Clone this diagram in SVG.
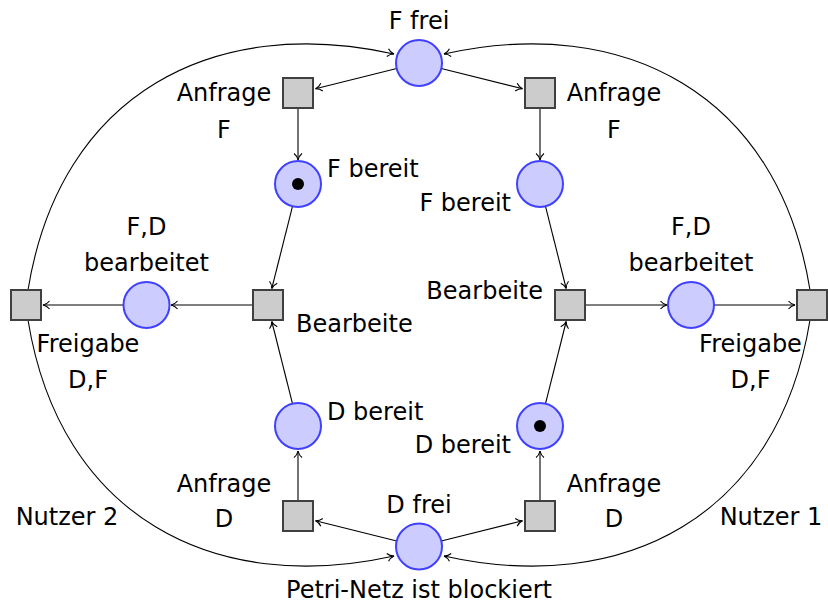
<svg xmlns="http://www.w3.org/2000/svg" width="828" height="604" viewBox="0 0 828 604">
<defs>
<style>
.pl{fill:#ccccff;stroke:#4040ff;stroke-width:2}
.tr{fill:#cccccc;stroke:#404040;stroke-width:2}
.tok{fill:#000}
.e{fill:none;stroke:#000;stroke-width:1.1;marker-end:url(#arr)}
text{font-family:"DejaVu Sans","Liberation Sans",sans-serif;font-size:24px;fill:#000}
.m{text-anchor:middle}
.en{text-anchor:end}
</style>
<marker id="arr" viewBox="-8 -5 10 10" refX="0" refY="0" markerWidth="10" markerHeight="10" markerUnits="userSpaceOnUse" orient="auto" overflow="visible">
<path d="M-6.5,-4 C-4.5,-1.4 -1.3,-0.3 0,0 C-1.3,0.3 -4.5,1.4 -6.5,4" fill="none" stroke="#000" stroke-width="1.1"/>
</marker>
</defs>
<rect width="828" height="604" fill="#fff"/>
<g id="connectors">
<path class="e" d="M396.7,68.5 L315.5,88.7"/>
<path class="e" d="M441.3,68.5 L522.5,88.7"/>
<path class="e" d="M298,108 L298,160"/>
<path class="e" d="M540,108 L540,160"/>
<path class="e" d="M292.5,206.3 L271.8,288.5"/>
<path class="e" d="M545.5,206.3 L566.2,288.5"/>
<path class="e" d="M292.5,403.7 L271.8,321.5"/>
<path class="e" d="M545.5,403.7 L566.2,321.5"/>
<path class="e" d="M253,305 L171,305"/>
<path class="e" d="M123.5,305 L43,305"/>
<path class="e" d="M585,305 L667,305"/>
<path class="e" d="M714.5,305 L795,305"/>
<path class="e" d="M396.7,541 L315.5,520.8"/>
<path class="e" d="M441.3,541 L522.5,520.8"/>
<path class="e" d="M298,501 L298,451"/>
<path class="e" d="M540,501 L540,451"/>
<path class="e" d="M28,290 C60,92.6 215,14 394,54"/>
<path class="e" d="M28,320 C60,517.4 215,596 394,556"/>
<path class="e" d="M810,290 C778,92.6 623,14 444,54"/>
<path class="e" d="M810,320 C778,517.4 623,596 444,556"/>
</g>
<g id="F_frei"><circle class="pl" cx="419" cy="63" r="23"/><text class="m" x="419" y="29">F frei</text></g>
<g id="Anfrage_F_2"><rect class="tr" x="283" y="78" width="30" height="30"/><text class="m" x="224" y="101">Anfrage</text><text class="m" x="224" y="138">F</text></g>
<g id="Anfrage_F_1"><rect class="tr" x="525" y="78" width="30" height="30"/><text class="m" x="614" y="101">Anfrage</text><text class="m" x="614" y="138">F</text></g>
<g id="F_bereit_2"><circle class="pl" cx="298" cy="184" r="23"/><circle class="tok" cx="298" cy="184" r="6"/><text x="327" y="177">F bereit</text></g>
<g id="F_bereit_1"><circle class="pl" cx="540" cy="184" r="23"/><text class="en" x="511" y="211">F bereit</text></g>
<g id="Bearbeite_2"><rect class="tr" x="253" y="290" width="30" height="30"/><text x="296" y="332">Bearbeite</text></g>
<g id="Bearbeite_1"><rect class="tr" x="555" y="290" width="30" height="30"/><text class="en" x="543" y="299">Bearbeite</text></g>
<g id="FD_bearbeitet_2"><circle class="pl" cx="146.5" cy="305" r="23"/><text class="m" x="146.5" y="235">F,D</text><text class="m" x="146.5" y="271">bearbeitet</text></g>
<g id="FD_bearbeitet_1"><circle class="pl" cx="691" cy="305" r="23"/><text class="m" x="691" y="235">F,D</text><text class="m" x="691" y="271">bearbeitet</text></g>
<g id="Freigabe_2"><rect class="tr" x="11" y="290" width="30" height="30"/><text class="m" x="88" y="352">Freigabe</text><text class="m" x="88" y="388">D,F</text></g>
<g id="Freigabe_1"><rect class="tr" x="797" y="290" width="30" height="30"/><text class="m" x="750.5" y="352">Freigabe</text><text class="m" x="750.5" y="388">D,F</text></g>
<g id="D_bereit_2"><circle class="pl" cx="298" cy="426" r="23"/><text x="327" y="420">D bereit</text></g>
<g id="D_bereit_1"><circle class="pl" cx="540" cy="426" r="23"/><circle class="tok" cx="540" cy="426" r="6"/><text class="en" x="511" y="453">D bereit</text></g>
<g id="Anfrage_D_2"><rect class="tr" x="283" y="501" width="30" height="30"/><text class="m" x="224" y="492">Anfrage</text><text class="m" x="224" y="527">D</text></g>
<g id="Anfrage_D_1"><rect class="tr" x="525" y="501" width="30" height="30"/><text class="m" x="614" y="492">Anfrage</text><text class="m" x="614" y="527">D</text></g>
<g id="D_frei"><circle class="pl" cx="419" cy="546.5" r="23"/><text class="m" x="419" y="513">D frei</text><text class="m" x="419" y="598">Petri-Netz ist blockiert</text></g>
<g id="labels"><text class="m" x="67" y="525">Nutzer 2</text><text class="m" x="771" y="525">Nutzer 1</text></g>
</svg>
